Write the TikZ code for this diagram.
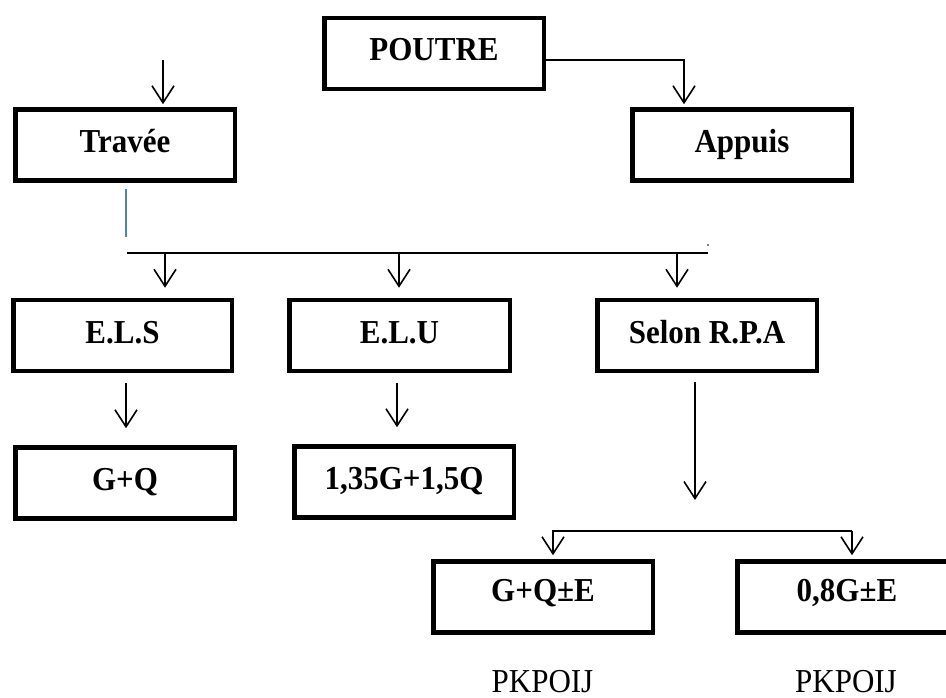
\documentclass[tikz,border=0pt]{standalone}
\usepackage{fontspec}
\usepackage{graphicx}
\setmainfont{Liberation Serif}
\usetikzlibrary{arrows.meta}
\definecolor{linkblue}{RGB}{79,129,189}
\newcommand{\tallt}[1]{\scalebox{1}[1.08]{#1}}
\begin{document}
\begin{tikzpicture}[x=1pt,y=-1pt,
  box/.style={draw, line width=4.5pt, inner sep=0pt,
    minimum width=219.5pt, minimum height=71pt,
    text height=15pt, text depth=0pt,
    font=\fontsize{31}{36}\selectfont\bfseries},
  lowbox/.style={box, text height=8pt},
  conn/.style={line width=1.6pt},
  arr/.style={conn, -{Straight Barb[length=17pt,width=22pt]}},
  note/.style={anchor=base, inner sep=0pt, font=\fontsize{31}{36}\selectfont}
]
\clip (0,0) rectangle (946,698);
\fill[white] (0,0) rectangle (946,698);

% boxes
\node[box] (poutre) at (434,53.5) {\tallt{POUTRE}};
\node[box] (travee) at (125,145) {\tallt{Travée}};
\node[box] (appuis) at (742,145) {\tallt{Appuis}};
\node[box, minimum width=218.5pt] (els) at (122.5,335.5) {\tallt{E.L.S}};
\node[box, minimum width=220.5pt] (elu) at (399.5,335.5) {\tallt{E.L.U}};
\node[box] (rpa) at (707,335.5) {\tallt{Selon R.P.A}};
\node[box] (gq) at (125,483) {\tallt{G+Q}};
\node[box] (comb) at (404,482) {\tallt{1,35G+1,5Q}};
\node[lowbox] (gqe) at (543,597) {\tallt{G+Q±E}};
\node[lowbox] (gge) at (847,597) {\tallt{0,8G±E}};

% notes under the seismic combinations
\node[note] (n1) at (542.5,692) {\tallt{PKPOIJ}};
\node[note] (n2) at (846,692) {\tallt{PKPOIJ}};

% top level
\coordinate (tin) at (163,60);
\draw[arr, shorten >=3pt] (tin) -- (tin |- travee.north);
\coordinate (pa) at (684,60);
\draw[arr, shorten >=3pt] (poutre.east |- pa) -- (pa) -- (pa |- appuis.north);

% link from the span to the limit states
\coordinate (b1) at (126,189);
\coordinate (b2) at (126,237);
\draw[linkblue, line width=1.4pt] (b1) -- (b2);
\coordinate (busL) at (127,253);
\coordinate (busR) at (708,253);
\draw[conn] (busL) -- (busR);
\fill (708,245) circle (0.8pt);
\coordinate (d1) at (165,253);
\coordinate (d2) at (399,253);
\coordinate (d3) at (677,253);
\draw[arr, shorten >=10pt] (d1) -- (d1 |- els.north);
\draw[arr, shorten >=10pt] (d2) -- (d2 |- elu.north);
\draw[arr, shorten >=10pt] (d3) -- (d3 |- rpa.north);

% limit states to combinations
\coordinate (e1) at (126,383);
\coordinate (e2) at (397,383);
\coordinate (e3) at (695,382);
\draw[arr, shorten >=17pt] (e1) -- (e1 |- gq.north);
\draw[arr, shorten >=17pt] (e2) -- (e2 |- comb.north);
\draw[arr] (e3) -- (695,500);

% seismic combinations
\coordinate (f1) at (553,531);
\coordinate (f2) at (852,531);
\draw[arr, shorten >=4pt] (f2) -- (f1) -- (f1 |- gqe.north);
\draw[arr, shorten >=4pt] (f2) -- (f2 |- gge.north);
\end{tikzpicture}
\end{document}
